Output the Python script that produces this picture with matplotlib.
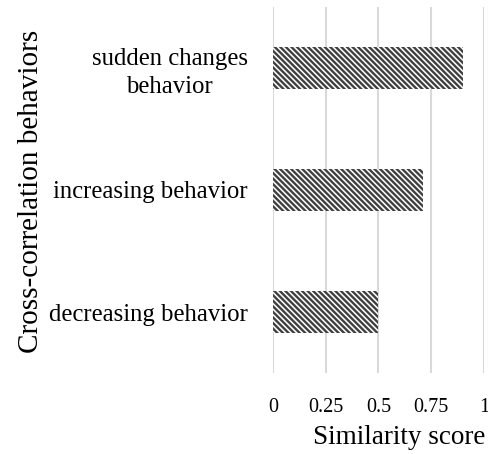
import matplotlib
matplotlib.use("Agg")
import matplotlib.pyplot as plt

plt.rcParams['font.family'] = ['Liberation Serif', 'DejaVu Serif']
plt.rcParams['hatch.linewidth'] = 1.7
plt.rcParams['hatch.color'] = '#404040'

categories = ['decreasing behavior', 'increasing behavior', 'sudden changes\nbehavior']
scores = [0.5, 0.71, 0.9]
xticks = [0, 0.25, 0.5, 0.75, 1]
xtick_labels = ['0', '0.25', '0.5', '0.75', '1']

fig = plt.figure(figsize=(4.89, 4.54), dpi=100)
ax = fig.add_axes([0.558, 0.178, 0.432, 0.807])

ax.barh(range(len(categories)), scores, height=0.35, color='white',
        hatch='\\\\\\\\\\\\', edgecolor='#404040', linewidth=0)

ax.set_xlim(0, 1)
ax.set_ylim(-0.5, 2.5)
ax.set_xticks(xticks)
ax.set_xticklabels(xtick_labels, fontsize=14.5)
ax.set_yticks(range(len(categories)))
ax.set_yticklabels(categories, fontsize=17.8, multialignment='center', linespacing=1.35)
ax.tick_params(length=0, pad=18)
ax.tick_params(axis='x', pad=18)
ax.grid(axis='x', color='#d9d9d9', linewidth=1.5)
ax.set_axisbelow(True)
for s in ax.spines.values():
    s.set_visible(False)

ax.set_xlabel('Similarity score', fontsize=19.5, va='center')
ax.xaxis.set_label_coords(0.6, -0.175)
fig.text(0.064, 0.579, 'Cross-correlation behaviors', rotation=90,
         fontsize=21, ha='center', va='center')

fig.savefig('out.png', dpi=100)
